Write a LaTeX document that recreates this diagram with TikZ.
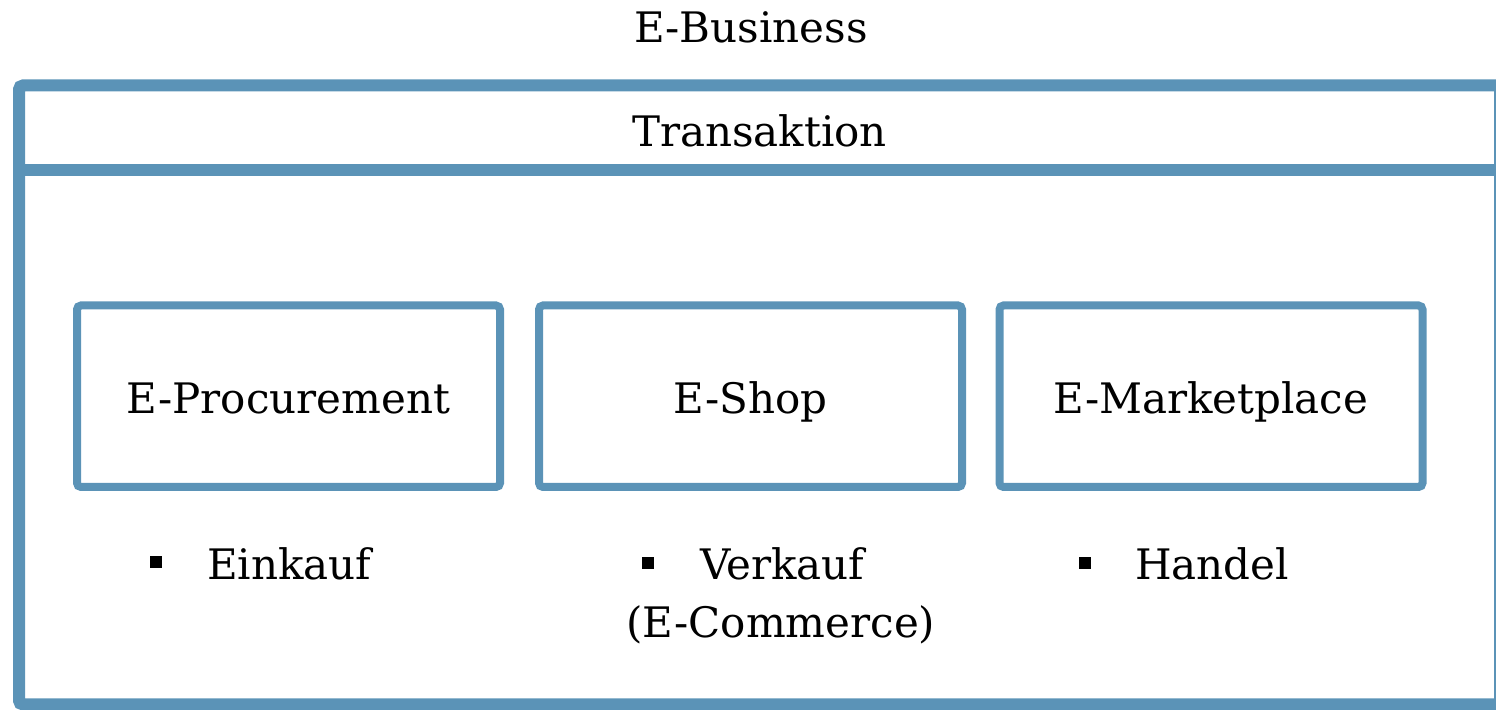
\documentclass[tikz,border=0pt]{standalone}
\usepackage{fontspec}
\setmainfont{DejaVu Serif}
\definecolor{frameblue}{RGB}{91,147,183}
\begin{document}
\begin{tikzpicture}[x=0.5pt,y=-0.5pt,
  every node/.style={font=\fontsize{21}{29}\selectfont, inner sep=0pt, outer sep=0pt},
  frame/.style={draw=frameblue, line width=6pt, rounded corners=2pt},
  modbox/.style={draw=frameblue, line width=4pt, rounded corners=2pt,
    minimum width=211.5pt, minimum height=90.75pt,
    text height=20pt, text depth=2.25pt},
  bulletmark/.style={fill=black, minimum size=6pt},
  itemtext/.style={anchor=base west}]
  \useasboundingbox (0,0) rectangle (1496,710);

  % outer frame with the title band
  \draw[frame] (19,85.5) rectangle (1500,704.5);
  \draw[frameblue, line width=6pt] (19,170) -- (1500,170);

  \node[anchor=base] (biz) at (751,43) {E-Business};
  \node[anchor=base] (trans) at (759.5,147) {Transaktion};

  % the three kinds of transaction
  \node[modbox] (proc) at (288.5,396.25) {E-Procurement};
  \node[modbox] (shop) at (750.5,396.25) {E-Shop};
  \node[modbox] (market) at (1211,396.25) {E-Marketplace};

  % bullet points below the boxes
  \node[bulletmark] (b1) at (155.5,562.5) {};
  \node[itemtext] (t1) at (207,580) {Einkauf};
  \node[bulletmark] (b2) at (647.5,563.5) {};
  \node[itemtext] (t2) at (700,580) {Verkauf};
  \node[anchor=base] (t2b) at (781,638) {(E-Commerce)};
  \node[bulletmark] (b3) at (1084.5,563) {};
  \node[itemtext] (t3) at (1135,580) {Handel};
\end{tikzpicture}
\end{document}
